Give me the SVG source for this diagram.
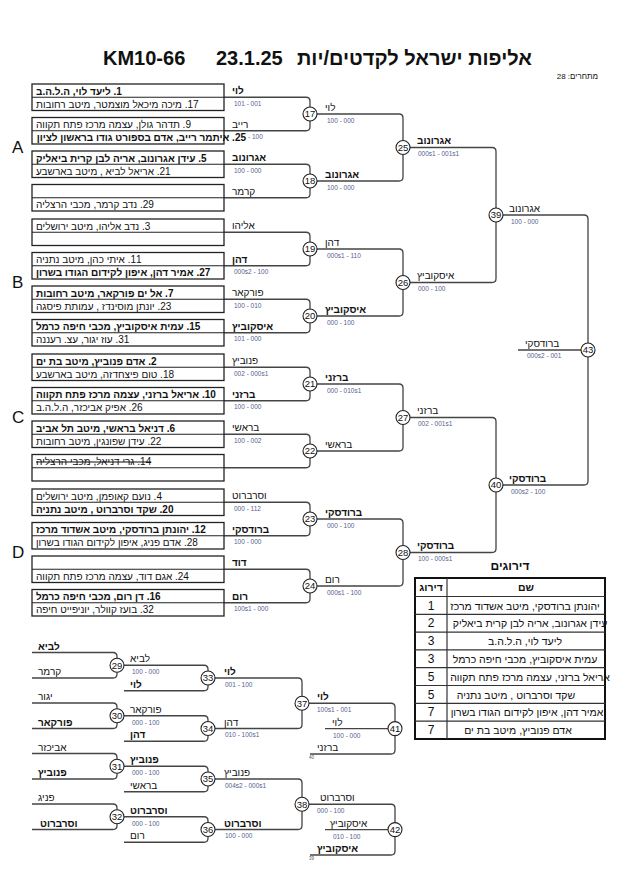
<svg xmlns="http://www.w3.org/2000/svg" width="630" height="891" viewBox="0 0 630 891">
<style>
text{font-family:"Liberation Sans",Arial,"DejaVu Sans",sans-serif;fill:#111}
.h{text-anchor:start}
.hr{direction:rtl;text-anchor:start}
.hm{direction:rtl;text-anchor:middle}
.bt{font-size:10px}
.lb{font-size:10px}
.b{font-weight:bold}
.sc{font-size:6.5px;fill:#55608f}
.cn{font-size:9.5px;text-anchor:middle}
.tiny{font-size:4.5px;fill:#555}
.ltr{font-size:17px}
.box{fill:#fff;stroke:#222;stroke-width:1.3}
.dv{stroke:#222;stroke-width:1.2}
.ln{fill:none;stroke:#444;stroke-width:1.3}
.cc{fill:#fff;stroke:#222;stroke-width:1.1}
.st{text-decoration:line-through}
.tb{fill:#fff;stroke:#111;stroke-width:2}
.tl{stroke:#333;stroke-width:1.2}
.tn{font-size:10.5px}
.tr{font-size:12px;text-anchor:middle}
</style>
<rect width="630" height="891" fill="#fff"/>
<g id="title">
<text x="103" y="65" style="font-size:20px;font-weight:bold">KM10-66</text>
<text x="216" y="65" style="font-size:20px;font-weight:bold">23.1.25</text>
<text class="h" x="297" y="65" style="font-size:20px;font-weight:bold">&#x202B;אליפות ישראל לקדטים/יות&#x202C;</text>
<text class="hr" x="598" y="79" style="font-size:8px">מתחרים: 28</text>
</g>
<g id="connectors">
<path class="ln" d="M224,97.25 H306 Q310,97.25 310,101.25 V126.75 Q310,130.75 306,130.75 H224"/>
<path class="ln" d="M224,164.25 H306 Q310,164.25 310,168.25 V193.75 Q310,197.75 306,197.75 H224"/>
<path class="ln" d="M224,232.25 H306 Q310,232.25 310,236.25 V261.75 Q310,265.75 306,265.75 H224"/>
<path class="ln" d="M224,299.25 H306 Q310,299.25 310,303.25 V328.75 Q310,332.75 306,332.75 H224"/>
<path class="ln" d="M224,367.25 H306 Q310,367.25 310,371.25 V396.75 Q310,400.75 306,400.75 H224"/>
<path class="ln" d="M224,434.25 H306 Q310,434.25 310,438.25 V463.75 Q310,467.75 306,467.75 H224"/>
<path class="ln" d="M224,502.25 H306 Q310,502.25 310,506.25 V531.75 Q310,535.75 306,535.75 H224"/>
<path class="ln" d="M224,569.25 H306 Q310,569.25 310,573.25 V598.75 Q310,602.75 306,602.75 H224"/>
<path class="ln" d="M310,114 H399 Q403,114 403,118 V177 Q403,181 399,181 H310"/>
<path class="ln" d="M310,249 H399 Q403,249 403,253 V312 Q403,316 399,316 H310"/>
<path class="ln" d="M310,384 H399 Q403,384 403,388 V447 Q403,451 399,451 H310"/>
<path class="ln" d="M310,519 H399 Q403,519 403,523 V582 Q403,586 399,586 H310"/>
<path class="ln" d="M403,147.5 H492 Q496,147.5 496,151.5 V278.5 Q496,282.5 492,282.5 H403"/>
<path class="ln" d="M403,417.5 H492 Q496,417.5 496,421.5 V548.5 Q496,552.5 492,552.5 H403"/>
<path class="ln" d="M496,215 H584 Q588,215 588,219 V481 Q588,485 584,485 H496"/>
<path class="ln" d="M518,350 H581"/>
<path class="ln" d="M32,652.5 H113 Q117,652.5 117,656.5 V674 Q117,678 113,678 H32"/>
<path class="ln" d="M32,703 H113 Q117,703 117,707 V724.5 Q117,728.5 113,728.5 H32"/>
<path class="ln" d="M32,753.5 H113 Q117,753.5 117,757.5 V775 Q117,779 113,779 H32"/>
<path class="ln" d="M32,804 H113 Q117,804 117,808 V825.5 Q117,829.5 113,829.5 H32"/>
<path class="ln" d="M117,665.25 H204 Q208,665.25 208,669.25 V686.75 Q208,690.75 204,690.75 H124"/>
<path class="ln" d="M117,715.75 H204 Q208,715.75 208,719.75 V737.25 Q208,741.25 204,741.25 H124"/>
<path class="ln" d="M117,766.25 H204 Q208,766.25 208,770.25 V787.75 Q208,791.75 204,791.75 H124"/>
<path class="ln" d="M117,816.75 H204 Q208,816.75 208,820.75 V838.25 Q208,842.25 204,842.25 H124"/>
<path class="ln" d="M208,678 H298 Q302,678 302,682 V724.5 Q302,728.5 298,728.5 H208"/>
<path class="ln" d="M208,779 H298 Q302,779 302,783 V825.5 Q302,829.5 298,829.5 H208"/>
<path class="ln" d="M302,703.25 H391 Q395,703.25 395,707.25 V750 Q395,754 391,754 H310"/>
<path class="ln" d="M325,728.6 H388"/>
<path class="ln" d="M302,804.25 H391 Q395,804.25 395,808.25 V851 Q395,855 391,855 H310"/>
<path class="ln" d="M325,829.6 H388"/>
</g>
<g id="letters">
<text class="ltr" x="12" y="153">A</text>
<text class="ltr" x="12" y="288">B</text>
<text class="ltr" x="12" y="423">C</text>
<text class="ltr" x="12" y="558">D</text>
</g>
<g id="box-A1"><rect class="box" x="32" y="84" width="192" height="26.5"/><line class="dv" x1="32" y1="97.25" x2="224" y2="97.25"/><text class="bt h b" x="36" y="94.5">&#x202B;1. ליעד לוי, ה.ל.ה.ב&#x202C;</text><text class="bt h" x="36" y="107.5">&#x202B;17. מיכה מיכאל מוצמטר, מיטב רחובות&#x202C;</text><text class="lb h b" x="232" y="94.25">&#x202B;לוי&#x202C;</text><text class="sc" x="234" y="105.75">101 - 001</text></g>
<g id="box-A2"><rect class="box" x="32" y="117.5" width="192" height="26.5"/><line class="dv" x1="32" y1="130.75" x2="224" y2="130.75"/><text class="sc" x="248" y="139.25">- 100</text><text class="bt h" x="36" y="128">&#x202B;9. תדהר גולן, עצמה מרכז פתח תקווה&#x202C;</text><text class="bt hr b" x="246" y="141">25. איתמר רייב, אדם בספורט גודו בראשון לציון</text><text class="lb h" x="232" y="127.75">&#x202B;רייב&#x202C;</text></g>
<g id="box-A3"><rect class="box" x="32" y="151" width="192" height="26.5"/><line class="dv" x1="32" y1="164.25" x2="224" y2="164.25"/><text class="bt h b" x="36" y="161.5">&#x202B;5. עידן אגרונוב, אריה לבן קרית ביאליק&#x202C;</text><text class="bt h" x="36" y="174.5">&#x202B;21. אריאל לביא , מיטב בארשבע&#x202C;</text><text class="lb h b" x="232" y="161.25">&#x202B;אגרונוב&#x202C;</text><text class="sc" x="234" y="172.75">100 - 000</text></g>
<g id="box-A4"><rect class="box" x="32" y="184.5" width="192" height="26.5"/><line class="dv" x1="32" y1="197.75" x2="224" y2="197.75"/><text class="bt h" x="36" y="208">&#x202B;29. נדב קרמר, מכבי הרצליה&#x202C;</text><text class="lb h" x="232" y="194.75">&#x202B;קרמר&#x202C;</text></g>
<g id="box-B1"><rect class="box" x="32" y="219" width="192" height="26.5"/><line class="dv" x1="32" y1="232.25" x2="224" y2="232.25"/><text class="bt h" x="36" y="229.5">&#x202B;3. נדב אליהו, מיטב ירושלים&#x202C;</text><text class="lb h" x="232" y="229.25">&#x202B;אליהו&#x202C;</text></g>
<g id="box-B2"><rect class="box" x="32" y="252.5" width="192" height="26.5"/><line class="dv" x1="32" y1="265.75" x2="224" y2="265.75"/><text class="bt h" x="36" y="263">&#x202B;11. איתי כהן, מיטב נתניה&#x202C;</text><text class="bt h b" x="36" y="276">&#x202B;27. אמיר דהן, איפון לקידום הגודו בשרון&#x202C;</text><text class="lb h b" x="232" y="262.75">&#x202B;דהן&#x202C;</text><text class="sc" x="234" y="274.25">000s2 - 100</text></g>
<g id="box-B3"><rect class="box" x="32" y="286" width="192" height="26.5"/><line class="dv" x1="32" y1="299.25" x2="224" y2="299.25"/><text class="bt h b" x="36" y="296.5">&#x202B;7. אל ים פורקאר, מיטב רחובות&#x202C;</text><text class="bt h" x="36" y="309.5">&#x202B;23. יונתן מוסינדז , עמותת פיסגה&#x202C;</text><text class="lb h" x="232" y="296.25">&#x202B;פורקאר&#x202C;</text><text class="sc" x="234" y="307.75">100 - 010</text></g>
<g id="box-B4"><rect class="box" x="32" y="319.5" width="192" height="26.5"/><line class="dv" x1="32" y1="332.75" x2="224" y2="332.75"/><text class="bt h b" x="36" y="330">&#x202B;15. עמית איסקוביץ, מכבי חיפה כרמל&#x202C;</text><text class="bt h" x="36" y="343">&#x202B;31. עוז יגור, עצ. רעננה&#x202C;</text><text class="lb h b" x="232" y="329.75">&#x202B;איסקוביץ&#x202C;</text><text class="sc" x="234" y="341.25">101 - 000</text></g>
<g id="box-C1"><rect class="box" x="32" y="354" width="192" height="26.5"/><line class="dv" x1="32" y1="367.25" x2="224" y2="367.25"/><text class="bt h b" x="36" y="364.5">&#x202B;2. אדם פנוביץ, מיטב בת ים&#x202C;</text><text class="bt h" x="36" y="377.5">&#x202B;18. טום פיצחדזה, מיטב בארשבע&#x202C;</text><text class="lb h" x="232" y="364.25">&#x202B;פנוביץ&#x202C;</text><text class="sc" x="234" y="375.75">002 - 000s1</text></g>
<g id="box-C2"><rect class="box" x="32" y="387.5" width="192" height="26.5"/><line class="dv" x1="32" y1="400.75" x2="224" y2="400.75"/><text class="bt h b" x="36" y="398">&#x202B;10. אריאל ברזני, עצמה מרכז פתח תקווה&#x202C;</text><text class="bt h" x="36" y="411">&#x202B;26. אפיק אביכזר, ה.ל.ה.ב&#x202C;</text><text class="lb h b" x="232" y="397.75">&#x202B;ברזני&#x202C;</text><text class="sc" x="234" y="409.25">100 - 000</text></g>
<g id="box-C3"><rect class="box" x="32" y="421" width="192" height="26.5"/><line class="dv" x1="32" y1="434.25" x2="224" y2="434.25"/><text class="bt h b" x="36" y="431.5">&#x202B;6. דניאל בראשי, מיטב תל אביב&#x202C;</text><text class="bt h" x="36" y="444.5">&#x202B;22. עידן שפונגין, מיטב רחובות&#x202C;</text><text class="lb h" x="232" y="431.25">&#x202B;בראשי&#x202C;</text><text class="sc" x="234" y="442.75">100 - 002</text></g>
<g id="box-C4"><rect class="box" x="32" y="454.5" width="192" height="26.5"/><line class="dv" x1="32" y1="467.75" x2="224" y2="467.75"/><text class="bt h st" x="36" y="465">&#x202B;14. גרי דניאל, מכבי הרצליה&#x202C;</text></g>
<g id="box-D1"><rect class="box" x="32" y="489" width="192" height="26.5"/><line class="dv" x1="32" y1="502.25" x2="224" y2="502.25"/><text class="bt h" x="36" y="499.5">&#x202B;4. נועם קאופמן, מיטב ירושלים&#x202C;</text><text class="bt h b" x="36" y="512.5">&#x202B;20. שקד וסרברוט , מיטב נתניה&#x202C;</text><text class="lb h" x="232" y="499.25">&#x202B;וסרברוט&#x202C;</text><text class="sc" x="234" y="510.75">000 - 112</text></g>
<g id="box-D2"><rect class="box" x="32" y="522.5" width="192" height="26.5"/><line class="dv" x1="32" y1="535.75" x2="224" y2="535.75"/><text class="bt h b" x="36" y="533">&#x202B;12. יהונתן ברודסקי, מיטב אשדוד מרכז&#x202C;</text><text class="bt h" x="36" y="546">&#x202B;28. אדם פניג, איפון לקידום הגודו בשרון&#x202C;</text><text class="lb h b" x="232" y="532.75">&#x202B;ברודסקי&#x202C;</text><text class="sc" x="234" y="544.25">100 - 000</text></g>
<g id="box-D3"><rect class="box" x="32" y="556" width="192" height="26.5"/><line class="dv" x1="32" y1="569.25" x2="224" y2="569.25"/><text class="bt h" x="36" y="579.5">&#x202B;24. אגם דוד, עצמה מרכז פתח תקווה&#x202C;</text><text class="lb h b" x="232" y="566.25">&#x202B;דוד&#x202C;</text></g>
<g id="box-D4"><rect class="box" x="32" y="589.5" width="192" height="26.5"/><line class="dv" x1="32" y1="602.75" x2="224" y2="602.75"/><text class="bt h b" x="36" y="600">&#x202B;16. דן רום, מכבי חיפה כרמל&#x202C;</text><text class="bt h" x="36" y="613">&#x202B;32. בועז קוולר, יוניפייט חיפה&#x202C;</text><text class="lb h b" x="232" y="599.75">&#x202B;רום&#x202C;</text><text class="sc" x="234" y="611.25">100s1 - 000</text></g>
<g id="m17"><circle class="cc" cx="310" cy="114" r="7"/><text class="cn" x="310" y="117.4">17</text><text class="lb h" x="325" y="110.5">&#x202B;לוי&#x202C;</text><text class="sc" x="327" y="122.5">100 - 000</text></g>
<g id="m18"><circle class="cc" cx="310" cy="181" r="7"/><text class="cn" x="310" y="184.4">18</text><text class="lb h b" x="325" y="177.5">&#x202B;אגרונוב&#x202C;</text><text class="sc" x="327" y="189.5">100 - 000</text></g>
<g id="m19"><circle class="cc" cx="310" cy="249" r="7"/><text class="cn" x="310" y="252.4">19</text><text class="lb h" x="325" y="245.5">&#x202B;דהן&#x202C;</text><text class="sc" x="327" y="257.5">000s1 - 110</text></g>
<g id="m20"><circle class="cc" cx="310" cy="316" r="7"/><text class="cn" x="310" y="319.4">20</text><text class="lb h b" x="325" y="312.5">&#x202B;איסקוביץ&#x202C;</text><text class="sc" x="327" y="324.5">000 - 100</text></g>
<g id="m21"><circle class="cc" cx="310" cy="384" r="7"/><text class="cn" x="310" y="387.4">21</text><text class="lb h b" x="325" y="380.5">&#x202B;ברזני&#x202C;</text><text class="sc" x="327" y="392.5">000 - 010s1</text></g>
<g id="m22"><circle class="cc" cx="310" cy="451" r="7"/><text class="cn" x="310" y="454.4">22</text><text class="lb h" x="325" y="447.5">&#x202B;בראשי&#x202C;</text></g>
<g id="m23"><circle class="cc" cx="310" cy="519" r="7"/><text class="cn" x="310" y="522.4">23</text><text class="lb h b" x="325" y="515.5">&#x202B;ברודסקי&#x202C;</text><text class="sc" x="327" y="527.5">000 - 100</text></g>
<g id="m24"><circle class="cc" cx="310" cy="586" r="7"/><text class="cn" x="310" y="589.4">24</text><text class="lb h" x="325" y="582.5">&#x202B;רום&#x202C;</text><text class="sc" x="327" y="594.5">000s1 - 100</text></g>
<g id="m25"><circle class="cc" cx="403" cy="147.5" r="7"/><text class="cn" x="403" y="150.9">25</text><text class="lb h b" x="417" y="144">&#x202B;אגרונוב&#x202C;</text><text class="sc" x="418" y="156">000s1 - 001s1</text></g>
<g id="m26"><circle class="cc" cx="403" cy="282.5" r="7"/><text class="cn" x="403" y="285.9">26</text><text class="lb h" x="417" y="279">&#x202B;איסקוביץ&#x202C;</text><text class="sc" x="418" y="291">000 - 100</text></g>
<g id="m27"><circle class="cc" cx="403" cy="417.5" r="7"/><text class="cn" x="403" y="420.9">27</text><text class="lb h" x="417" y="414">&#x202B;ברזני&#x202C;</text><text class="sc" x="418" y="426">002 - 001s1</text></g>
<g id="m28"><circle class="cc" cx="403" cy="552.5" r="7"/><text class="cn" x="403" y="555.9">28</text><text class="lb h b" x="417" y="549">&#x202B;ברודסקי&#x202C;</text><text class="sc" x="418" y="561">100 - 000s1</text></g>
<g id="m39"><circle class="cc" cx="496" cy="215" r="7"/><text class="cn" x="496" y="218.4">39</text><text class="lb h" x="509" y="211.5">&#x202B;אגרונוב&#x202C;</text><text class="sc" x="511" y="223.5">100 - 000</text></g>
<g id="m40"><circle class="cc" cx="496" cy="485" r="7"/><text class="cn" x="496" y="488.4">40</text><text class="lb h b" x="509" y="481.5">&#x202B;ברודסקי&#x202C;</text><text class="sc" x="511" y="493.5">000s2 - 100</text></g>
<g id="m43"><circle class="cc" cx="588" cy="350" r="7"/><text class="cn" x="588" y="353.4">43</text><text class="lb h" x="525" y="346.5">&#x202B;ברודסקי&#x202C;</text><text class="sc" x="527" y="358">000s2 - 001</text></g>
<g id="rep-entries">
<text class="lb h b" x="38" y="649.5">&#x202B;לביא&#x202C;</text>
<text class="lb h" x="38" y="675">&#x202B;קרמר&#x202C;</text>
<text class="lb h" x="38" y="700">&#x202B;יגור&#x202C;</text>
<text class="lb h b" x="38" y="725.5">&#x202B;פורקאר&#x202C;</text>
<text class="lb h" x="38" y="750.5">&#x202B;אביכזר&#x202C;</text>
<text class="lb h b" x="38" y="776">&#x202B;פנוביץ&#x202C;</text>
<text class="lb h" x="38" y="801">&#x202B;פניג&#x202C;</text>
<text class="lb h b" x="40" y="826.5">&#x202B;וסרברוט&#x202C;</text>
</g>
<g id="m29"><circle class="cc" cx="117" cy="665.25" r="7"/><text class="cn" x="117" y="668.65">29</text><text class="lb h" x="130" y="662.25">&#x202B;לביא&#x202C;</text><text class="sc" x="132" y="674">100 - 000</text><text class="lb h b" x="130" y="687.75">&#x202B;לוי&#x202C;</text></g>
<g id="m30"><circle class="cc" cx="117" cy="715.75" r="7"/><text class="cn" x="117" y="719.15">30</text><text class="lb h" x="130" y="712.75">&#x202B;פורקאר&#x202C;</text><text class="sc" x="132" y="724.5">000 - 100</text><text class="lb h b" x="130" y="738.25">&#x202B;דהן&#x202C;</text></g>
<g id="m31"><circle class="cc" cx="117" cy="766.25" r="7"/><text class="cn" x="117" y="769.65">31</text><text class="lb h b" x="130" y="763.25">&#x202B;פנוביץ&#x202C;</text><text class="sc" x="132" y="775">000 - 100</text><text class="lb h" x="130" y="788.75">&#x202B;בראשי&#x202C;</text></g>
<g id="m32"><circle class="cc" cx="117" cy="816.75" r="7"/><text class="cn" x="117" y="820.15">32</text><text class="lb h b" x="130" y="813.75">&#x202B;וסרברוט&#x202C;</text><text class="sc" x="132" y="825.5">000 - 100</text><text class="lb h" x="130" y="839.25">&#x202B;רום&#x202C;</text></g>
<g id="m33"><circle class="cc" cx="208" cy="678" r="7"/><text class="cn" x="208" y="681.4">33</text><text class="lb h b" x="224" y="675">&#x202B;לוי&#x202C;</text><text class="sc" x="225" y="686.5">001 - 100</text></g>
<g id="m34"><circle class="cc" cx="208" cy="728.5" r="7"/><text class="cn" x="208" y="731.9">34</text><text class="lb h" x="224" y="725.5">&#x202B;דהן&#x202C;</text><text class="sc" x="225" y="737">010 - 100s1</text></g>
<g id="m35"><circle class="cc" cx="208" cy="779" r="7"/><text class="cn" x="208" y="782.4">35</text><text class="lb h" x="224" y="776">&#x202B;פנוביץ&#x202C;</text><text class="sc" x="225" y="787.5">004s2 - 000s1</text></g>
<g id="m36"><circle class="cc" cx="208" cy="829.5" r="7"/><text class="cn" x="208" y="832.9">36</text><text class="lb h b" x="224" y="826.5">&#x202B;וסרברוט&#x202C;</text><text class="sc" x="225" y="838">100 - 000</text></g>
<g id="m37"><circle class="cc" cx="302" cy="703.25" r="7"/><text class="cn" x="302" y="706.65">37</text><text class="lb h b" x="317" y="700">&#x202B;לוי&#x202C;</text><text class="sc" x="317" y="712">100s1 - 001</text></g>
<g id="m38"><circle class="cc" cx="302" cy="804.25" r="7"/><text class="cn" x="302" y="807.65">38</text><text class="lb h" x="320" y="801">&#x202B;וסרברוט&#x202C;</text><text class="sc" x="317" y="813">000 - 100</text></g>
<g id="m41"><circle class="cc" cx="395" cy="728.6" r="7"/><text class="cn" x="395" y="732">41</text><text class="lb h" x="332" y="725.5">&#x202B;לוי&#x202C;</text><text class="sc" x="333" y="737.5">100 - 000</text><text class="lb h" x="317" y="751">&#x202B;ברזני&#x202C;</text><text class="tiny" x="309" y="759">40</text></g>
<g id="m42"><circle class="cc" cx="395" cy="829.6" r="7"/><text class="cn" x="395" y="833">42</text><text class="lb h" x="330" y="826.5">&#x202B;איסקוביץ&#x202C;</text><text class="sc" x="333" y="838.5">010 - 100</text><text class="lb h b" x="317" y="852">&#x202B;איסקוביץ&#x202C;</text><text class="tiny" x="309" y="860">39</text></g>
<g id="rankings">
<text class="hm b" x="510" y="570" style="font-size:12px">דירוגים</text>
<rect class="tb" x="415" y="578" width="190" height="161"/>
<line class="tl" x1="447" y1="578" x2="447" y2="739"/>
<line class="tl" x1="415" y1="596.5" x2="605" y2="596.5"/>
<line class="tl" x1="415" y1="614.3" x2="605" y2="614.3"/>
<line class="tl" x1="415" y1="632.1" x2="605" y2="632.1"/>
<line class="tl" x1="415" y1="649.9" x2="605" y2="649.9"/>
<line class="tl" x1="415" y1="667.7" x2="605" y2="667.7"/>
<line class="tl" x1="415" y1="685.5" x2="605" y2="685.5"/>
<line class="tl" x1="415" y1="703.3" x2="605" y2="703.3"/>
<line class="tl" x1="415" y1="721.1" x2="605" y2="721.1"/>
<text class="hm b" x="431" y="591" style="font-size:10.5px">דירוג</text>
<text class="hm b" x="526" y="591" style="font-size:10.5px">שם</text>
<text class="tr" x="431" y="609.5">1</text><text class="hm tn" x="525" y="609.5">יהונתן ברודסקי, מיטב אשדוד מרכז</text>
<text class="tr" x="431" y="627.3">2</text><text class="hm tn" x="530" y="627.3">עידן אגרונוב, אריה לבן קרית ביאליק</text>
<text class="tr" x="431" y="645.1">3</text><text class="hm tn" x="525" y="645.1">ליעד לוי, ה.ל.ה.ב</text>
<text class="tr" x="431" y="662.9">3</text><text class="hm tn" x="525" y="662.9">עמית איסקוביץ, מכבי חיפה כרמל</text>
<text class="tr" x="431" y="680.7">5</text><text class="hm tn" x="530" y="680.7">אריאל ברזני, עצמה מרכז פתח תקווה</text>
<text class="tr" x="431" y="698.5">5</text><text class="hm tn" x="516" y="698.5">שקד וסרברוט , מיטב נתניה</text>
<text class="tr" x="431" y="716.3">7</text><text class="hm tn" x="527" y="716.3">אמיר דהן, איפון לקידום הגודו בשרון</text>
<text class="tr" x="431" y="734.1">7</text><text class="hm tn" x="518" y="734.1">אדם פנוביץ, מיטב בת ים</text>
</g>
</svg>
